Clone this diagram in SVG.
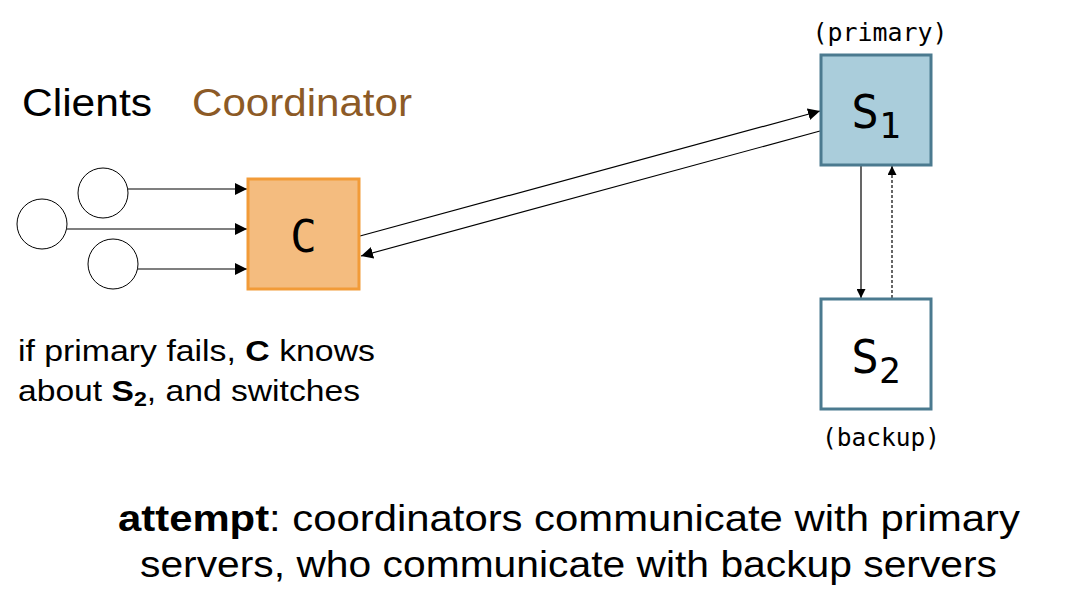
<svg xmlns="http://www.w3.org/2000/svg" width="1080" height="604" viewBox="0 0 1080 604">
<defs>
<marker id="ah" viewBox="0 0 10 10" refX="10" refY="5" markerWidth="9" markerHeight="9" markerUnits="userSpaceOnUse" orient="auto"><path d="M0,0 L10,5 L0,10 z" fill="#000"/></marker>
<marker id="ahs" viewBox="0 0 10 10" refX="10" refY="5" markerWidth="12" markerHeight="12" markerUnits="userSpaceOnUse" orient="auto"><path d="M0,0 L10,5 L0,10 z" fill="#000"/></marker>
</defs>
<style>
.sans{font-family:"Liberation Sans","DejaVu Sans",sans-serif}
.mono{font-family:"DejaVu Sans Mono","Liberation Mono",monospace}
.cl{fill:#fff;stroke:#000;stroke-width:1}
.ln{stroke:#000;stroke-width:1.2;fill:none}
.srv{stroke:#4B7A8F;stroke-width:3}
</style>
<rect width="1080" height="604" fill="#fff"/>
<text class="sans" x="22" y="116" font-size="38" textLength="130" lengthAdjust="spacingAndGlyphs">Clients</text>
<text class="sans" x="192" y="116" font-size="38" fill="#8C5A26" textLength="220" lengthAdjust="spacingAndGlyphs">Coordinator</text>
<g id="connectors">
<line class="ln" x1="128" y1="189" x2="247" y2="189" marker-end="url(#ahs)"/>
<line class="ln" x1="67" y1="229" x2="247" y2="229" marker-end="url(#ahs)"/>
<line class="ln" x1="138" y1="269" x2="247" y2="269" marker-end="url(#ahs)"/>
<line class="ln" x1="360" y1="236" x2="820" y2="111" marker-end="url(#ahs)"/>
<line class="ln" x1="820" y1="131" x2="361" y2="256" marker-end="url(#ahs)"/>
<line class="ln" x1="861" y1="166" x2="861" y2="298" marker-end="url(#ah)"/>
<line class="ln" x1="892" y1="298" x2="892" y2="166" stroke-dasharray="3,2" marker-end="url(#ah)"/>
</g>
<g id="client1"><circle class="cl" cx="103" cy="193" r="25"/></g>
<g id="client2"><circle class="cl" cx="42" cy="224" r="25"/></g>
<g id="client3"><circle class="cl" cx="113" cy="264" r="25"/></g>
<g id="coordinator">
<rect x="248" y="179" width="111" height="110" fill="#F4BC7F" stroke="#F29B38" stroke-width="3"/>
<text class="mono" x="303.5" y="252" font-size="44" text-anchor="middle">C</text>
</g>
<g id="s1">
<rect class="srv" x="821" y="55" width="110" height="110" fill="#AACDDB"/>
<text class="mono" x="876" y="128" font-size="46" text-anchor="middle">S<tspan font-size="36" dy="10">1</tspan></text>
<text class="mono" x="880" y="41" font-size="24" text-anchor="middle" textLength="135" lengthAdjust="spacingAndGlyphs">(primary)</text>
</g>
<g id="s2">
<rect class="srv" x="821" y="299" width="110" height="110" fill="#fff"/>
<text class="mono" x="876" y="373" font-size="46" text-anchor="middle">S<tspan font-size="36" dy="10">2</tspan></text>
<text class="mono" x="881" y="446" font-size="24" text-anchor="middle" textLength="118" lengthAdjust="spacingAndGlyphs">(backup)</text>
</g>
<text class="sans" x="18" y="361" font-size="29" textLength="357" lengthAdjust="spacingAndGlyphs">if primary fails, <tspan font-weight="bold">C</tspan> knows</text>
<text class="sans" x="18" y="401" font-size="29" textLength="342" lengthAdjust="spacingAndGlyphs">about <tspan font-weight="bold">S<tspan font-size="20" dy="5">2</tspan></tspan><tspan dy="-5">, and switches</tspan></text>
<text class="sans" x="118" y="531" font-size="36" textLength="902" lengthAdjust="spacingAndGlyphs"><tspan font-weight="bold">attempt</tspan>: coordinators communicate with primary</text>
<text class="sans" x="140" y="577" font-size="36" textLength="857" lengthAdjust="spacingAndGlyphs">servers, who communicate with backup servers</text>
</svg>
